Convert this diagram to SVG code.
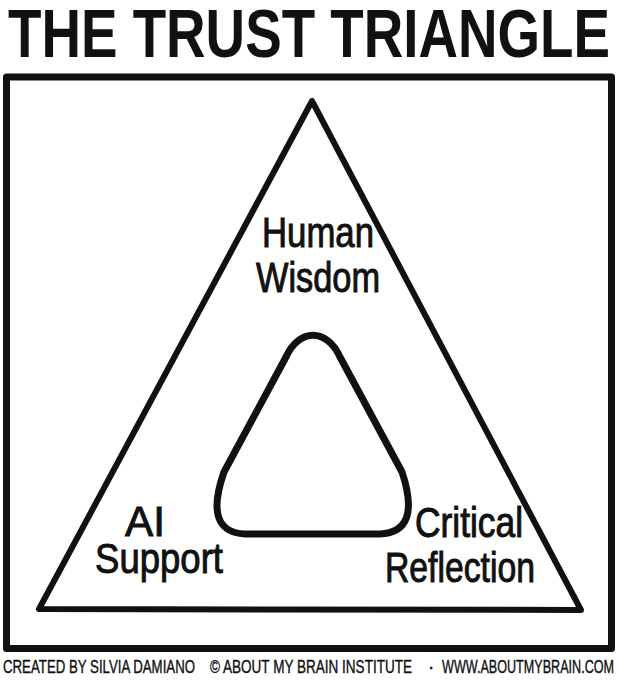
<svg xmlns="http://www.w3.org/2000/svg" width="618" height="687" viewBox="0 0 618 687">
<style>
.ln{fill:none;stroke:#111;stroke-linejoin:round;stroke-linecap:round}
.lbl{font-family:"Liberation Sans",Arial,sans-serif;font-size:43px;fill:#111;stroke:#111;stroke-width:1;text-anchor:middle}
.ft{font-family:"Liberation Sans",Arial,sans-serif;font-size:19px;fill:#111;stroke:#111;stroke-width:0.4}
</style>
<rect width="618" height="687" fill="#fff"/>
<g id="title"><text x="8" y="57" font-family="'Liberation Sans',Arial,sans-serif" font-weight="bold" font-size="68" fill="#111" textLength="602" lengthAdjust="spacingAndGlyphs">THE TRUST TRIANGLE</text></g>
<g id="frame"><rect class="ln" x="6.5" y="77" width="605" height="571.5" stroke-width="7"/></g>
<g id="outer-triangle"><path class="ln" d="M312 101 L39 609 L581 610 Z" stroke-width="6"/></g>
<g id="inner-triangle"><path class="ln" d="M286 357 C299 328 327 328 340 357 L402 472 Q422 532 380 534 L245 534 Q203 532 224 472 Z" stroke-width="7"/></g>
<g id="node-human"><text class="lbl" x="318" y="247" textLength="112" lengthAdjust="spacingAndGlyphs">Human</text><text class="lbl" x="318" y="292" textLength="124" lengthAdjust="spacingAndGlyphs">Wisdom</text></g>
<g id="node-ai"><text class="lbl" x="145" y="536" textLength="40" lengthAdjust="spacingAndGlyphs">AI</text><text class="lbl" x="159" y="573" textLength="128" lengthAdjust="spacingAndGlyphs">Support</text></g>
<g id="node-critical"><text class="lbl" x="469" y="537" textLength="108" lengthAdjust="spacingAndGlyphs">Critical</text><text class="lbl" x="460" y="582" textLength="150" lengthAdjust="spacingAndGlyphs">Reflection</text></g>
<g id="footer">
<text class="ft" x="3" y="673" textLength="192" lengthAdjust="spacingAndGlyphs">CREATED BY SILVIA DAMIANO</text>
<text class="ft" x="210" y="673" textLength="202" lengthAdjust="spacingAndGlyphs">© ABOUT MY BRAIN INSTITUTE</text>
<text class="ft" x="428" y="673">·</text>
<text class="ft" x="442" y="673" textLength="172" lengthAdjust="spacingAndGlyphs">WWW.ABOUTMYBRAIN.COM</text>
</g>
</svg>
